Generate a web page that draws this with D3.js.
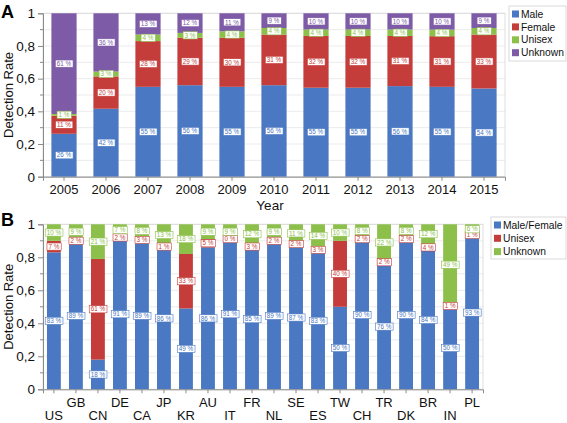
<!DOCTYPE html>
<html><head><meta charset="utf-8">
<script src="https://cdn.jsdelivr.net/npm/d3@7"></script>
<style>body{margin:0;background:#fff}svg{display:block;font-family:"Liberation Sans",Arial,sans-serif}</style>
</head><body>
<script>
// Panel A data (percent)
const years = ["2005","2006","2007","2008","2009","2010","2011","2012","2013","2014","2015"];
const male    = [26,42,55,56,55,56,55,55,56,55,54];
const female  = [11,20,28,29,30,31,32,32,31,31,33];
const unisexA = [1,3,4,3,4,4,4,4,4,4,4];
const unknownA= [61,36,13,12,11,9,10,10,10,10,9];
const seriesA = ["Male","Female","Unisex","Unknown"];

// Panel B data (percent)
const countries = ["US","GB","CN","DE","CA","JP","KR","AU","IT","FR","NL","SE","ES","TW","CH","TR","DK","BR","IN","PL"];
const maleFemale = [83,89,18,91,89,86,49,86,91,85,89,87,83,50,90,76,90,84,50,93];
const unisexB    = [7,2,61,2,3,1,33,5,0,3,2,2,3,40,2,2,2,4,1,1];
const unknownB   = [10,9,21,7,8,13,18,9,9,12,9,11,14,10,8,22,8,12,49,6];
const seriesB = ["Male/Female","Unisex","Unknown"];
const yTicks = [0,0.2,0.4,0.6,0.8,1];
const yTickLabels = ["0","0,2","0,4","0,6","0,8","1"];

const W=567,H=423;
const colA = {"Male":"#4a78c2","Female":"#c43d3a","Unisex":"#8dbf4b","Unknown":"#7d5ba6"};
const colB = {"Male/Female":"#4a78c2","Unisex":"#c43d3a","Unknown":"#8dbf4b"};

const svg = d3.select("body").append("svg").attr("width",W).attr("height",H);

function panel(cfg){
  const g = svg.append("g");
  const x = d3.scaleBand().domain(cfg.cats).range([cfg.x0,cfg.x1]).paddingInner(cfg.pi).paddingOuter(cfg.po);
  const y = d3.scaleLinear().domain([0,1]).range([cfg.y0,cfg.y1]);
  // grid
  g.selectAll(".grid").data(d3.range(1,11).map(d=>d/10)).join("line")
    .attr("x1",cfg.x0).attr("x2",cfg.x1).attr("y1",d=>y(d)).attr("y2",d=>y(d))
    .attr("stroke","#e6e6e6").attr("stroke-width",0.8);
  // frame
  g.append("rect").attr("x",cfg.x0).attr("y",cfg.y1).attr("width",cfg.x1-cfg.x0).attr("height",cfg.y0-cfg.y1)
    .attr("fill","none").attr("stroke","#d8d8d8").attr("stroke-width",0.8);
  // stack
  const rows = cfg.cats.map((c,i)=>{const o={cat:c}; cfg.keys.forEach((k,j)=>o[k]=cfg.vals[j][i]); return o;});
  const stack = d3.stack().keys(cfg.keys).offset(d3.stackOffsetExpand)(rows);
  stack.forEach(s=>{
    g.append("g").selectAll("rect").data(s).join("rect")
      .attr("x",d=>x(d.data.cat)).attr("width",x.bandwidth())
      .attr("y",d=>y(d[1])).attr("height",d=>y(d[0])-y(d[1]))
      .attr("fill",cfg.col[s.key]);
  });
  // labels
  stack.forEach(s=>{
    const lg = g.append("g").selectAll("g").data(s).join("g")
      .attr("transform",d=>`translate(${x(d.data.cat)+x.bandwidth()/2},${y((d[0]+d[1])/2)})`);
    lg.each(function(d){
      const t = d.data[s.key]+" %";
      const gg = d3.select(this);
      const txt = gg.append("text").attr("text-anchor","middle").attr("dy","0.35em")
        .attr("font-size",6.3).attr("fill",cfg.col[s.key]).text(t);
      const bb = txt.node().getBBox();
      gg.insert("rect","text").attr("x",bb.x-1.5).attr("y",-3.6).attr("width",bb.width+3).attr("height",7.2)
        .attr("fill","#fff").attr("stroke",cfg.col[s.key]).attr("stroke-width",0.6);
    });
  });
  // y axis
  const ya = g.append("g").attr("transform",`translate(${cfg.x0},0)`)
    .call(d3.axisLeft(y).tickValues(yTicks).tickFormat((d,i)=>yTickLabels[i]).tickSize(5).tickPadding(3));
  ya.select(".domain").attr("stroke","#8a8a8a");
  ya.selectAll(".tick line").attr("stroke","#8a8a8a");
  ya.selectAll("text").attr("font-size",13.5).attr("fill","#111").attr("font-family","Liberation Sans, Arial");
  g.selectAll(".minor").data([0.1,0.3,0.5,0.7,0.9]).join("line")
    .attr("x1",cfg.x0-3).attr("x2",cfg.x0).attr("y1",d=>y(d)).attr("y2",d=>y(d)).attr("stroke","#8a8a8a");
  // x axis
  const xa = g.append("g").attr("transform",`translate(0,${cfg.y0})`)
    .call(d3.axisBottom(x).tickSize(4).tickPadding(cfg.xpad));
  xa.select(".domain").attr("stroke","#8a8a8a");
  xa.selectAll(".tick line").attr("stroke","#8a8a8a");
  xa.selectAll("text").attr("font-size",13).attr("fill","#111").attr("font-family","Liberation Sans, Arial");
  if(cfg.stagger){
    xa.selectAll(".tick text").attr("dy",(d,i)=> i%2===0 ? "1.78em" : "0.71em");
  }
  // y title
  g.append("text").attr("transform",`translate(${cfg.ytx},${(cfg.y0+cfg.y1)/2}) rotate(-90)`)
    .attr("text-anchor","middle").attr("font-size",13).attr("fill","#111").text("Detection Rate");
  // panel letter
  g.append("text").attr("x",1).attr("y",cfg.letterY).attr("font-size",18).attr("font-weight","bold").text(cfg.letter);
  // legend
  const L = cfg.leg;
  g.append("rect").attr("x",L.x).attr("y",L.y).attr("width",L.w).attr("height",L.h)
    .attr("fill","#fff").attr("stroke","#d0d0d0").attr("stroke-width",0.8);
  cfg.keys.forEach((k,i)=>{
    const cy = L.y+L.first+i*L.step;
    g.append("rect").attr("x",L.x+3).attr("y",cy-3.5).attr("width",7).attr("height",7).attr("fill",cfg.col[k]);
    g.append("text").attr("x",L.x+12).attr("y",cy).attr("dy","0.35em").attr("font-size",10.3).attr("fill","#111").text(k);
  });
  return {x,y,g};
}

panel({cats:years,keys:seriesA,vals:[male,female,unisexA,unknownA],col:colA,
  x0:43,x1:505,y0:176.7,y1:13.3,pi:0.4,po:0.2,xpad:4,ytx:13,letter:"A",letterY:18,
  leg:{x:509,y:6,w:57,h:55,first:8,step:12.9}});
svg.append("text").attr("x",270).attr("y",210).attr("text-anchor","middle").attr("font-size",13.5).attr("fill","#111").text("Year");

panel({cats:countries,keys:seriesB,vals:[maleFemale,unisexB,unknownB],col:colB,
  x0:43,x1:483,y0:389.3,y1:224.3,pi:0.37,po:0.18,xpad:4,stagger:true,ytx:13,letter:"B",letterY:226,
  leg:{x:491,y:217,w:75,h:42,first:8,step:13.3}});
</script>
</body></html>
